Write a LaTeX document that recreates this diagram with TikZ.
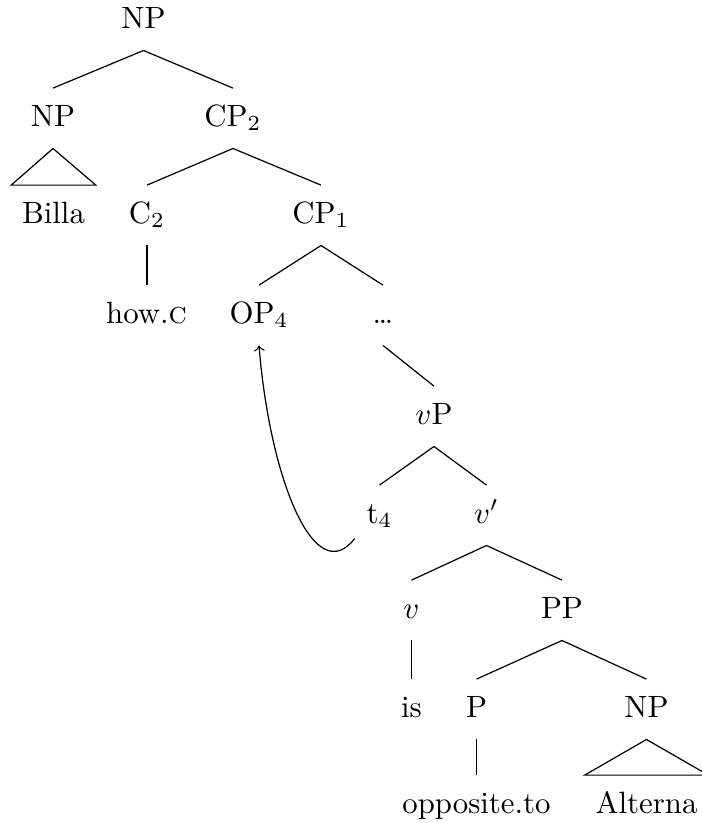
\documentclass[tikz,border=0pt]{standalone}
\usepackage{fontspec}
\begin{document}
\begin{tikzpicture}[x=0.3247pt, y=-0.3247pt,
  lab/.style={text height=7pt, text depth=2pt, inner xsep=3.33pt, inner ysep=5.1pt, anchor=base},
  edge/.style={line width=0.4pt}]
\useasboundingbox (0,0) rectangle (702,823);
% nodes (positions are baselines)
\node[lab] (root) at (143.5,28) {NP};
\node[lab] (npl) at (53,126) {NP};
\node[lab] (cp2) at (233,126) {CP$_2$};
\node[lab] (billa) at (53.5,223) {Billa};
\node[lab] (c2) at (147,223) {C$_2$};
\node[lab] (cp1) at (321,223) {CP$_1$};
\node[lab] (howc) at (146.5,323) {how.\textsc{c}};
\node[lab] (op) at (259,323) {OP$_4$};
\node[lab] (dots) at (383,323) {…};
\node[lab] (vp) at (434,424) {$v$P};
\node[lab] (t4) at (379.5,523) {t$_4$};
\node[lab] (vbar) at (486.5,523) {$v'$};
\node[lab] (v) at (411.5,618) {$v$};
\node[lab] (pp) at (562,618) {PP};
\node[lab] (is) at (411.5,717) {is};
\node[lab] (p) at (476.5,717) {P};
\node[lab] (np2) at (646.5,717) {NP};
\node[lab] (opp) at (476.5,813) {opposite.to};
\node[lab] (alt) at (646.5,813) {Alterna};
% edges
\draw[edge] (root.south) -- (npl.north);
\draw[edge] (root.south) -- (cp2.north);
\draw[edge] (npl.south) -- (billa.north west) -- (billa.north east) -- cycle;
\draw[edge] (cp2.south) -- (c2.north);
\draw[edge] (cp2.south) -- (cp1.north);
\draw[edge] (c2.south) -- (c2.south |- howc.north);
\draw[edge] (cp1.south) -- (op.north);
\draw[edge] (cp1.south) -- (dots.north);
\draw[edge] (dots.south) -- (vp.north);
\draw[edge] (vp.south) -- (t4.north);
\draw[edge] (vp.south) -- (vbar.north);
\draw[edge] (vbar.south) -- (v.north);
\draw[edge] (vbar.south) -- (pp.north);
\draw[edge] (v.south) -- (is.north);
\draw[edge] (pp.south) -- (p.north);
\draw[edge] (pp.south) -- (np2.north);
\draw[edge] (p.south) -- (opp.north);
\draw[edge] (np2.south) -- (alt.north west) -- (alt.north east) -- cycle;
% movement arrow
\draw[edge,->] ([shift={(-1,-7)}]t4.south west) .. controls (315,590) and (270,480) .. (op.south);
\end{tikzpicture}
\end{document}
